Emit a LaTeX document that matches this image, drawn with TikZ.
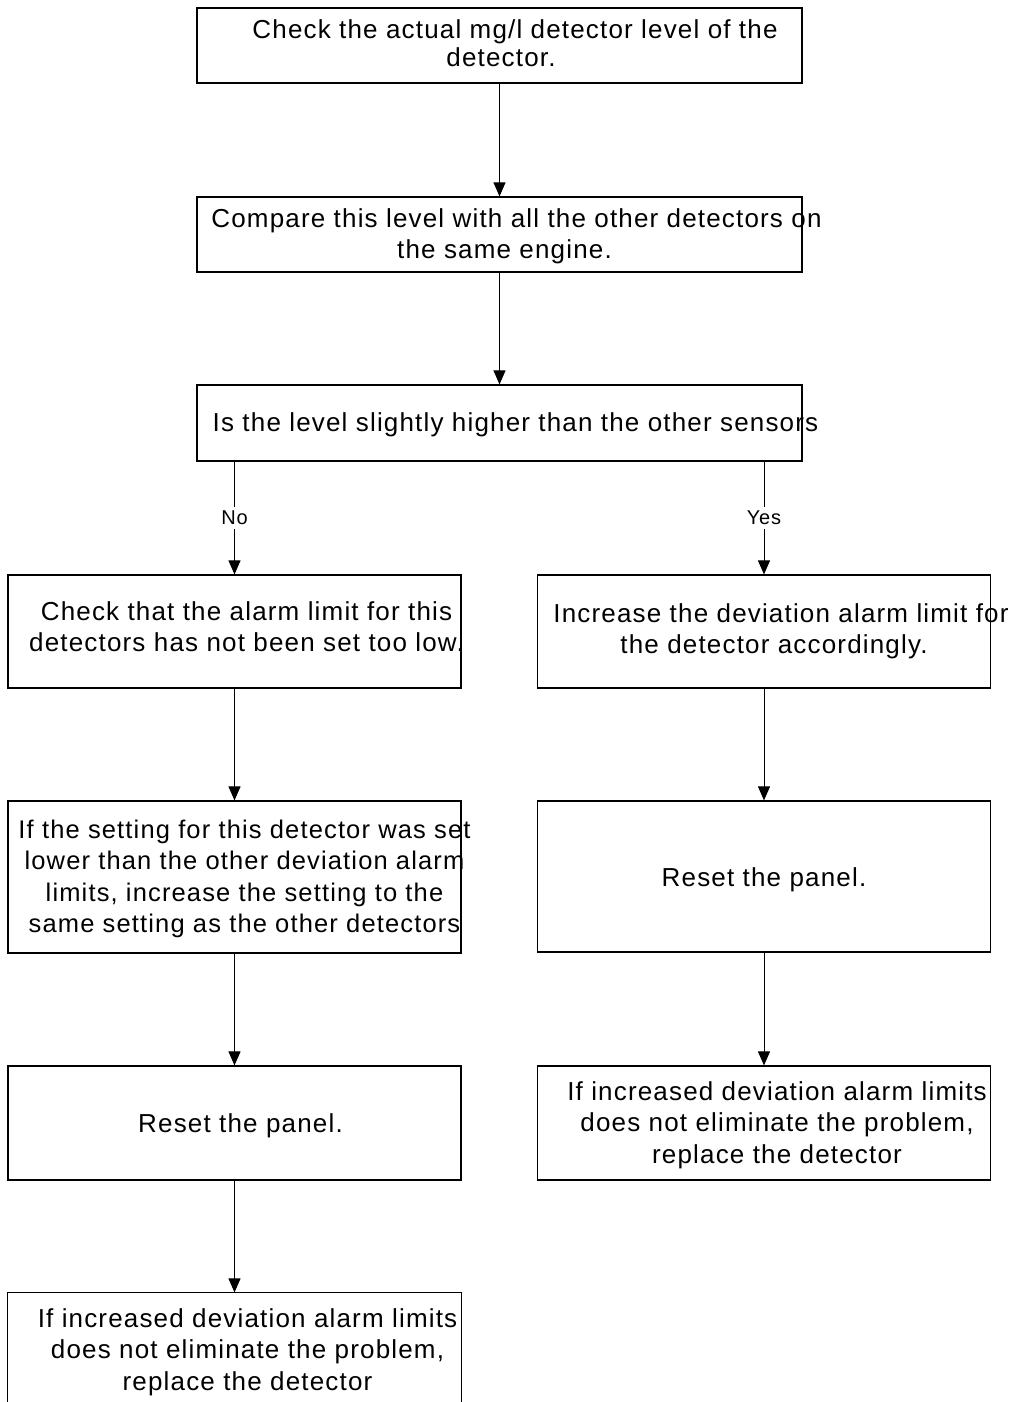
\documentclass[tikz,border=0pt]{standalone}
\usepackage{fontspec}
\setmainfont[LetterSpace=4.5]{Liberation Sans}
\usetikzlibrary{arrows.meta}
\begin{document}
\begin{tikzpicture}[x=1pt,y=-1pt,
  boxline/.style={draw=black, line width=1.2pt},
  widebox/.style={boxline, inner sep=0pt, minimum width=605pt},
  colbox/.style={boxline, inner sep=0pt, minimum width=453pt},
  txt/.style={align=center, inner sep=0pt, font=\fontsize{26}{31.5}\selectfont},
  lab/.style={fill=white, inner sep=4pt, font=\fontsize{20}{22}\selectfont},
  arr/.style={-{Triangle[length=14pt,width=12pt]}, line width=1pt}
]
\useasboundingbox (0,0) rectangle (1017,1402);

% boxes
\node[widebox, minimum height=75pt] (b1) at (499.5,45.5) {};
\node[widebox, minimum height=75pt] (b2) at (499.5,234.5) {};
\node[widebox, minimum height=76pt] (b3) at (499.5,423) {};
\node[colbox, minimum height=113pt] (b4) at (234.5,631.5) {};
\node[colbox, minimum height=113pt] (b5) at (764,631.5) {};
\node[colbox, minimum height=152pt] (b6) at (234.5,877) {};
\node[colbox, minimum height=151pt] (b7) at (764,876.5) {};
\node[colbox, minimum height=114pt] (b8) at (234.5,1123) {};
\node[colbox, minimum height=114pt] (b9) at (764,1123) {};
\node[colbox, draw=none, minimum height=130pt] (b10) at (234.5,1358) {};
\draw[boxline] (b10.south west) -- (b10.north west) -- (b10.north east) -- (b10.south east);

% texts
\node[txt, xshift=1.5pt, yshift=2.5pt, font=\fontsize{26}{28}\selectfont] (t1) at (b1.center) {\hspace*{28pt}Check the actual mg/l detector level of the\\detector.};
\node[txt, xshift=5pt, yshift=-2pt] (t2) at (b2.center) {\hspace*{24pt}Compare this level with all the other detectors on\\the same engine.};
\node[txt, xshift=16pt, yshift=-2pt] (t3) at (b3.center) {Is the level slightly higher than the other sensors};
\node[txt, xshift=12pt, yshift=5pt] (t4) at (b4.center) {Check that the alarm limit for this\\detectors has not been set too low.};
\node[txt, xshift=10pt, yshift=0pt] (t5) at (b5.center) {\hspace*{14pt}Increase the deviation alarm limit for\\the detector accordingly.};
\node[txt, xshift=10pt, yshift=-2pt, font=\fontsize{25.5}{31.5}\selectfont] (t6) at (b6.center) {If the setting for this detector was set\\lower than the other deviation alarm\\limits, increase the setting to the\\same setting as the other detectors};
\node[txt, yshift=-3pt] (t7) at (b7.center) {Reset the panel.};
\node[txt, xshift=6pt, yshift=-3pt] (t8) at (b8.center) {Reset the panel.};
\node[txt, xshift=13pt, yshift=-2pt] (t9) at (b9.center) {If increased deviation alarm limits\\does not eliminate the problem,\\replace the detector};
\node[txt, xshift=13pt, yshift=-16pt, anchor=north] (t10) at (b10.north) {If increased deviation alarm limits\\does not eliminate the problem,\\replace the detector};

% connectors
\draw[arr] (b1.south) -- (b2.north);
\draw[arr] (b2.south) -- (b3.north);
\draw[arr] (b3.south -| b4.north) -- node[lab] (no) {No} (b4.north);
\draw[arr] (b3.south -| b5.north) -- node[lab] (yes) {Yes} (b5.north);
\draw[arr] (b4.south) -- (b6.north);
\draw[arr] (b5.south) -- (b7.north);
\draw[arr] (b6.south) -- (b8.north);
\draw[arr] (b7.south) -- (b9.north);
\draw[arr] (b8.south) -- (b10.north);
\end{tikzpicture}
\end{document}
